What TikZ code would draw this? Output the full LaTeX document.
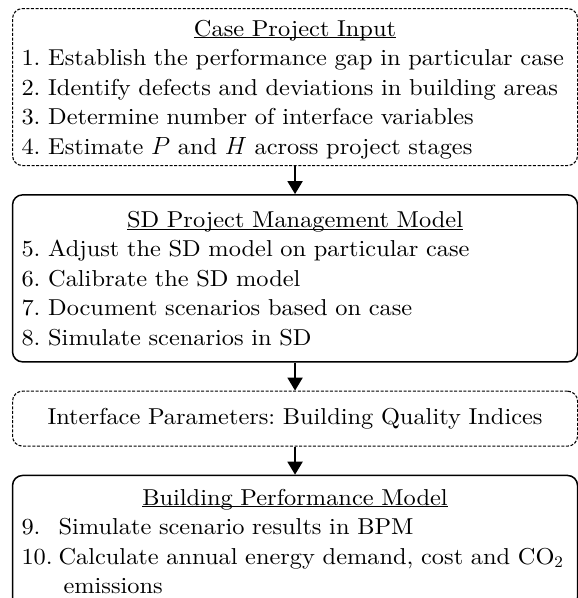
\documentclass[tikz,border=0pt]{standalone}
\usepackage{fontspec}
\setmainfont{lmroman10-regular}[Extension=.otf,FakeStretch=1.06,
  ItalicFont=lmroman10-italic]
\usepackage{tikz}
\usetikzlibrary{arrows.meta,positioning}
\newcommand{\topstrut}{\rule{0pt}{26pt}}
\newcommand{\botstrut}{\rule[-10pt]{0pt}{10pt}}
\frenchspacing

\begin{document}
\begin{tikzpicture}[>={Triangle[width=15pt,length=13pt]},node distance=28pt,
  box/.style={draw,line width=1.5pt,rounded corners=10pt,text width=547pt,
  inner xsep=9pt,inner ysep=0pt,align=left,font=\fontsize{23}{29.5}\selectfont},
  dbox/.style={box,line width=1.1pt,dash pattern=on 3pt off 1.6pt},
  link/.style={->,line width=1.8pt}]
\clip (0,0) rectangle (578pt,-598pt);
\node[dbox,anchor=north west,minimum height=157pt] (input) at (12pt,-8pt)
  {\topstrut\hfill\underline{\smash{Case Project Input}}\hfill\null\\
   \mbox{1. Establish the performance gap in particular case}\\
   \mbox{2. Identify defects and deviations in building areas}\\
   3. Determine number of interface variables\\
   4. Estimate $P$ and $H$ across project stages\botstrut};
\node[box,below=of input,minimum height=167pt] (sdmodel)
  {\topstrut\hfill\underline{\smash{SD Project Management Model}}\hfill\null\\
   5. Adjust the SD model on particular case\\
   6. Calibrate the SD model\\
   7. Document scenarios based on case\\
   8. Simulate scenarios in SD\botstrut};
\node[dbox,below=of sdmodel,minimum height=55pt,align=center] (iface)
  {Interface Parameters: Building Quality Indices};
\node[box,below=of iface,minimum height=132pt] (bpm)
  {\topstrut\hfill\underline{\smash{Building Performance Model}}\hfill\null\\
   \makebox[37pt][l]{9.}Simulate scenario results in BPM\\
   \mbox{\makebox[37pt][l]{10.}Calculate annual energy demand, cost and CO\textsubscript{2}}\\
   \hspace*{42pt}emissions\botstrut};
\draw[link] (input) -- (sdmodel);
\draw[link] (sdmodel) -- (iface);
\draw[link] (iface) -- (bpm);
\end{tikzpicture}
\end{document}
